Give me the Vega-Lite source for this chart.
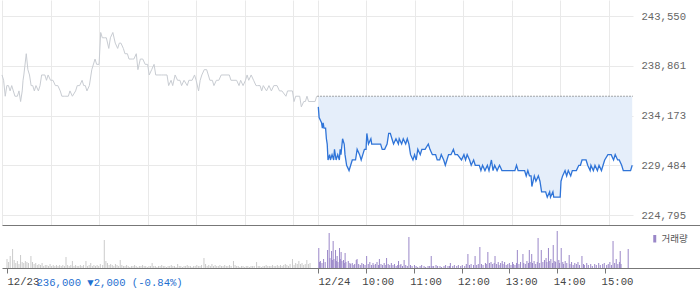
{
"$schema":"https://vega.github.io/schema/vega-lite/v6.json",
"padding":0,"spacing":0,"bounds":"flush","background":"white",
"config":{"view":{"stroke":null},"font":"Liberation Mono"},
"resolve":{"scale":{"x":"independent","y":"independent","color":"independent"}},
"datasets":{
"prev":[{"m":0,"p":238000},{"m":2,"p":237500},{"m":4,"p":236000},{"m":6,"p":237000},{"m":8,"p":237000},{"m":10,"p":236500},{"m":12,"p":237000},{"m":14,"p":236500},{"m":16,"p":236000},{"m":19,"p":236000},{"m":21,"p":236500},{"m":23,"p":235500},{"m":25,"p":236500},{"m":26,"p":237500},{"m":27,"p":238000},{"m":30,"p":240000},{"m":32,"p":238500},{"m":34,"p":238000},{"m":36,"p":237000},{"m":38,"p":237000},{"m":40,"p":236500},{"m":42,"p":237000},{"m":45,"p":236500},{"m":47,"p":237000},{"m":49,"p":238000},{"m":53,"p":238000},{"m":55,"p":237500},{"m":57,"p":238000},{"m":60,"p":237500},{"m":63,"p":237500},{"m":66,"p":237000},{"m":69,"p":237000},{"m":72,"p":236500},{"m":74,"p":236000},{"m":77,"p":236000},{"m":79,"p":236000},{"m":82,"p":236000},{"m":84,"p":236500},{"m":87,"p":236000},{"m":91,"p":236500},{"m":93,"p":237000},{"m":96,"p":237000},{"m":99,"p":237500},{"m":101,"p":237000},{"m":103,"p":237000},{"m":105,"p":236500},{"m":108,"p":237000},{"m":111,"p":238500},{"m":115,"p":239500},{"m":117,"p":239000},{"m":120,"p":239000},{"m":122,"p":242000},{"m":124,"p":241500},{"m":127,"p":241500},{"m":129,"p":241500},{"m":132,"p":240500},{"m":134,"p":241500},{"m":137,"p":242000},{"m":140,"p":241000},{"m":143,"p":240500},{"m":145,"p":241000},{"m":147,"p":241000},{"m":150,"p":240500},{"m":152,"p":240000},{"m":155,"p":240000},{"m":157,"p":239500},{"m":161,"p":239500},{"m":163,"p":239500},{"m":166,"p":240000},{"m":168,"p":238500},{"m":171,"p":239500},{"m":174,"p":239500},{"m":177,"p":239000},{"m":180,"p":239000},{"m":182,"p":238000},{"m":185,"p":238500},{"m":188,"p":239000},{"m":190,"p":238000},{"m":194,"p":238000},{"m":197,"p":238000},{"m":200,"p":238000},{"m":204,"p":238000},{"m":206,"p":237000},{"m":209,"p":237500},{"m":211,"p":237000},{"m":214,"p":238000},{"m":217,"p":237500},{"m":220,"p":237500},{"m":222,"p":237000},{"m":225,"p":237500},{"m":229,"p":237000},{"m":231,"p":237500},{"m":235,"p":237500},{"m":238,"p":238000},{"m":240,"p":237500},{"m":243,"p":236500},{"m":245,"p":237500},{"m":247,"p":238000},{"m":250,"p":238500},{"m":253,"p":238500},{"m":255,"p":238000},{"m":257,"p":237500},{"m":260,"p":237500},{"m":262,"p":237000},{"m":265,"p":237500},{"m":268,"p":237500},{"m":271,"p":238000},{"m":281,"p":238000},{"m":283,"p":237500},{"m":290,"p":237500},{"m":293,"p":237000},{"m":295,"p":237500},{"m":298,"p":237000},{"m":301,"p":237500},{"m":303,"p":238000},{"m":305,"p":237500},{"m":308,"p":238000},{"m":311,"p":237500},{"m":314,"p":237000},{"m":316,"p":237000},{"m":319,"p":237000},{"m":321,"p":236500},{"m":323,"p":237000},{"m":327,"p":236500},{"m":330,"p":237000},{"m":333,"p":236500},{"m":336,"p":237000},{"m":340,"p":237000},{"m":343,"p":236500},{"m":346,"p":236500},{"m":351,"p":236000},{"m":353,"p":236500},{"m":356,"p":236500},{"m":359,"p":236500},{"m":361,"p":235500},{"m":363,"p":236000},{"m":368,"p":236000},{"m":370,"p":235000},{"m":373,"p":235500},{"m":375,"p":235500},{"m":377,"p":236000},{"m":379,"p":235500},{"m":387,"p":235500},{"m":389,"p":236000}],
"cur":[{"m":391,"p":235000},{"m":392,"p":234000},{"m":395,"p":233500},{"m":396,"p":233000},{"m":397,"p":233500},{"m":398,"p":233000},{"m":400,"p":233000},{"m":401,"p":232000},{"m":402,"p":231500},{"m":403,"p":230000},{"m":405,"p":230500},{"m":406,"p":230000},{"m":408,"p":230500},{"m":410,"p":230000},{"m":411,"p":231000},{"m":413,"p":230000},{"m":415,"p":230500},{"m":417,"p":230000},{"m":418,"p":231000},{"m":419,"p":230500},{"m":421,"p":232000},{"m":423,"p":231500},{"m":424,"p":230500},{"m":426,"p":229500},{"m":429,"p":229000},{"m":431,"p":229500},{"m":433,"p":230000},{"m":437,"p":230000},{"m":439,"p":231000},{"m":442,"p":230500},{"m":444,"p":230000},{"m":446,"p":230500},{"m":448,"p":231000},{"m":450,"p":231000},{"m":451,"p":232500},{"m":453,"p":231500},{"m":456,"p":232000},{"m":457,"p":231500},{"m":461,"p":231500},{"m":465,"p":231500},{"m":468,"p":231500},{"m":470,"p":231000},{"m":473,"p":231000},{"m":476,"p":231500},{"m":478,"p":232500},{"m":480,"p":232500},{"m":482,"p":232000},{"m":484,"p":231500},{"m":487,"p":232000},{"m":490,"p":231500},{"m":491,"p":232000},{"m":494,"p":231500},{"m":496,"p":232000},{"m":499,"p":231500},{"m":501,"p":232000},{"m":503,"p":231500},{"m":505,"p":230500},{"m":508,"p":230000},{"m":510,"p":230500},{"m":512,"p":230000},{"m":514,"p":231000},{"m":517,"p":230500},{"m":519,"p":231000},{"m":523,"p":231000},{"m":527,"p":231500},{"m":529,"p":231000},{"m":532,"p":230500},{"m":536,"p":230500},{"m":538,"p":230000},{"m":541,"p":230000},{"m":543,"p":230500},{"m":546,"p":230000},{"m":548,"p":229500},{"m":550,"p":230000},{"m":552,"p":230500},{"m":555,"p":230500},{"m":558,"p":231000},{"m":560,"p":230500},{"m":563,"p":230500},{"m":568,"p":230000},{"m":571,"p":230500},{"m":573,"p":230000},{"m":575,"p":230500},{"m":578,"p":230000},{"m":580,"p":229500},{"m":583,"p":230000},{"m":585,"p":229500},{"m":587,"p":229500},{"m":590,"p":229500},{"m":592,"p":229000},{"m":594,"p":229500},{"m":597,"p":229000},{"m":600,"p":229500},{"m":602,"p":229000},{"m":605,"p":230000},{"m":607,"p":229000},{"m":609,"p":229500},{"m":612,"p":229000},{"m":615,"p":229500},{"m":618,"p":229000},{"m":634,"p":229000},{"m":636,"p":229500},{"m":638,"p":229000},{"m":646,"p":229000},{"m":648,"p":228500},{"m":650,"p":229000},{"m":652,"p":228500},{"m":654,"p":228500},{"m":655,"p":227500},{"m":658,"p":228500},{"m":660,"p":228000},{"m":663,"p":228500},{"m":665,"p":228000},{"m":667,"p":227000},{"m":672,"p":227000},{"m":674,"p":226500},{"m":677,"p":227000},{"m":678,"p":226500},{"m":681,"p":227000},{"m":682,"p":226500},{"m":690,"p":226500},{"m":691,"p":228000},{"m":693,"p":228500},{"m":696,"p":229000},{"m":698,"p":228500},{"m":700,"p":229000},{"m":703,"p":228500},{"m":705,"p":229000},{"m":710,"p":229000},{"m":713,"p":229500},{"m":715,"p":229500},{"m":717,"p":230000},{"m":722,"p":230000},{"m":724,"p":229500},{"m":727,"p":229000},{"m":728,"p":229500},{"m":731,"p":229000},{"m":733,"p":229500},{"m":736,"p":229000},{"m":738,"p":229500},{"m":741,"p":229000},{"m":743,"p":229500},{"m":745,"p":230000},{"m":749,"p":230500},{"m":752,"p":230500},{"m":753,"p":230500},{"m":756,"p":230000},{"m":758,"p":230500},{"m":761,"p":230000},{"m":763,"p":230000},{"m":766,"p":229500},{"m":768,"p":229000},{"m":777,"p":229000},{"m":779,"p":229500}],
"vol":[{"m":0,"v":9000,"d":"12/23"},{"m":2,"v":6000,"d":"12/23"},{"m":4,"v":12000,"d":"12/23"},{"m":7,"v":19000,"d":"12/23"},{"m":9,"v":8000,"d":"12/23"},{"m":11,"v":5000,"d":"12/23"},{"m":13,"v":7000,"d":"12/23"},{"m":15,"v":4000,"d":"12/23"},{"m":17,"v":13000,"d":"12/23"},{"m":19,"v":6000,"d":"12/23"},{"m":21,"v":5000,"d":"12/23"},{"m":23,"v":7000,"d":"12/23"},{"m":25,"v":6000,"d":"12/23"},{"m":27,"v":5000,"d":"12/23"},{"m":30,"v":12000,"d":"12/23"},{"m":32,"v":6000,"d":"12/23"},{"m":34,"v":4000,"d":"12/23"},{"m":36,"v":5000,"d":"12/23"},{"m":38,"v":3000,"d":"12/23"},{"m":40,"v":4000,"d":"12/23"},{"m":42,"v":3000,"d":"12/23"},{"m":44,"v":5000,"d":"12/23"},{"m":46,"v":2000,"d":"12/23"},{"m":48,"v":3000,"d":"12/23"},{"m":50,"v":3000,"d":"12/23"},{"m":52,"v":2000,"d":"12/23"},{"m":54,"v":4000,"d":"12/23"},{"m":56,"v":2000,"d":"12/23"},{"m":58,"v":3000,"d":"12/23"},{"m":60,"v":2000,"d":"12/23"},{"m":62,"v":3000,"d":"12/23"},{"m":64,"v":2000,"d":"12/23"},{"m":66,"v":3000,"d":"12/23"},{"m":68,"v":2000,"d":"12/23"},{"m":70,"v":3000,"d":"12/23"},{"m":72,"v":2000,"d":"12/23"},{"m":74,"v":11000,"d":"12/23"},{"m":76,"v":3000,"d":"12/23"},{"m":78,"v":2000,"d":"12/23"},{"m":80,"v":3000,"d":"12/23"},{"m":82,"v":7000,"d":"12/23"},{"m":84,"v":2000,"d":"12/23"},{"m":86,"v":3000,"d":"12/23"},{"m":88,"v":2000,"d":"12/23"},{"m":90,"v":2000,"d":"12/23"},{"m":92,"v":3000,"d":"12/23"},{"m":94,"v":2000,"d":"12/23"},{"m":96,"v":3000,"d":"12/23"},{"m":99,"v":7000,"d":"12/23"},{"m":101,"v":2000,"d":"12/23"},{"m":103,"v":3000,"d":"12/23"},{"m":105,"v":5000,"d":"12/23"},{"m":107,"v":2000,"d":"12/23"},{"m":109,"v":3000,"d":"12/23"},{"m":111,"v":2000,"d":"12/23"},{"m":113,"v":3000,"d":"12/23"},{"m":115,"v":2000,"d":"12/23"},{"m":117,"v":4000,"d":"12/23"},{"m":120,"v":3000,"d":"12/23"},{"m":122,"v":28000,"d":"12/23"},{"m":124,"v":7000,"d":"12/23"},{"m":126,"v":5000,"d":"12/23"},{"m":128,"v":3000,"d":"12/23"},{"m":130,"v":4000,"d":"12/23"},{"m":132,"v":3000,"d":"12/23"},{"m":134,"v":2000,"d":"12/23"},{"m":136,"v":4000,"d":"12/23"},{"m":138,"v":3000,"d":"12/23"},{"m":140,"v":2000,"d":"12/23"},{"m":142,"v":8000,"d":"12/23"},{"m":144,"v":3000,"d":"12/23"},{"m":146,"v":2000,"d":"12/23"},{"m":148,"v":2000,"d":"12/23"},{"m":150,"v":3000,"d":"12/23"},{"m":152,"v":2000,"d":"12/23"},{"m":154,"v":1000,"d":"12/23"},{"m":156,"v":2000,"d":"12/23"},{"m":158,"v":2000,"d":"12/23"},{"m":160,"v":3000,"d":"12/23"},{"m":162,"v":2000,"d":"12/23"},{"m":164,"v":1000,"d":"12/23"},{"m":166,"v":2000,"d":"12/23"},{"m":168,"v":2000,"d":"12/23"},{"m":170,"v":3000,"d":"12/23"},{"m":172,"v":2000,"d":"12/23"},{"m":174,"v":2000,"d":"12/23"},{"m":176,"v":1000,"d":"12/23"},{"m":178,"v":2000,"d":"12/23"},{"m":180,"v":2000,"d":"12/23"},{"m":182,"v":5000,"d":"12/23"},{"m":184,"v":2000,"d":"12/23"},{"m":186,"v":2000,"d":"12/23"},{"m":188,"v":1000,"d":"12/23"},{"m":190,"v":2000,"d":"12/23"},{"m":192,"v":2000,"d":"12/23"},{"m":194,"v":3000,"d":"12/23"},{"m":196,"v":2000,"d":"12/23"},{"m":198,"v":2000,"d":"12/23"},{"m":200,"v":1000,"d":"12/23"},{"m":202,"v":2000,"d":"12/23"},{"m":204,"v":2000,"d":"12/23"},{"m":206,"v":3000,"d":"12/23"},{"m":208,"v":2000,"d":"12/23"},{"m":210,"v":2000,"d":"12/23"},{"m":212,"v":1000,"d":"12/23"},{"m":214,"v":4000,"d":"12/23"},{"m":216,"v":2000,"d":"12/23"},{"m":218,"v":2000,"d":"12/23"},{"m":220,"v":1000,"d":"12/23"},{"m":222,"v":2000,"d":"12/23"},{"m":224,"v":2000,"d":"12/23"},{"m":226,"v":3000,"d":"12/23"},{"m":228,"v":2000,"d":"12/23"},{"m":230,"v":2000,"d":"12/23"},{"m":232,"v":1000,"d":"12/23"},{"m":234,"v":2000,"d":"12/23"},{"m":236,"v":2000,"d":"12/23"},{"m":238,"v":3000,"d":"12/23"},{"m":240,"v":2000,"d":"12/23"},{"m":242,"v":2000,"d":"12/23"},{"m":244,"v":3000,"d":"12/23"},{"m":247,"v":10000,"d":"12/23"},{"m":249,"v":4000,"d":"12/23"},{"m":251,"v":2000,"d":"12/23"},{"m":253,"v":3000,"d":"12/23"},{"m":255,"v":2000,"d":"12/23"},{"m":257,"v":4000,"d":"12/23"},{"m":259,"v":2000,"d":"12/23"},{"m":261,"v":3000,"d":"12/23"},{"m":263,"v":2000,"d":"12/23"},{"m":265,"v":2000,"d":"12/23"},{"m":267,"v":3000,"d":"12/23"},{"m":269,"v":2000,"d":"12/23"},{"m":271,"v":2000,"d":"12/23"},{"m":273,"v":3000,"d":"12/23"},{"m":275,"v":2000,"d":"12/23"},{"m":277,"v":2000,"d":"12/23"},{"m":279,"v":3000,"d":"12/23"},{"m":281,"v":2000,"d":"12/23"},{"m":284,"v":7000,"d":"12/23"},{"m":286,"v":3000,"d":"12/23"},{"m":288,"v":2000,"d":"12/23"},{"m":290,"v":2000,"d":"12/23"},{"m":292,"v":1000,"d":"12/23"},{"m":294,"v":2000,"d":"12/23"},{"m":296,"v":2000,"d":"12/23"},{"m":298,"v":1000,"d":"12/23"},{"m":300,"v":2000,"d":"12/23"},{"m":302,"v":2000,"d":"12/23"},{"m":304,"v":1000,"d":"12/23"},{"m":306,"v":2000,"d":"12/23"},{"m":308,"v":2000,"d":"12/23"},{"m":310,"v":2000,"d":"12/23"},{"m":313,"v":6000,"d":"12/23"},{"m":315,"v":2000,"d":"12/23"},{"m":317,"v":2000,"d":"12/23"},{"m":319,"v":1000,"d":"12/23"},{"m":321,"v":2000,"d":"12/23"},{"m":323,"v":2000,"d":"12/23"},{"m":325,"v":3000,"d":"12/23"},{"m":327,"v":2000,"d":"12/23"},{"m":329,"v":2000,"d":"12/23"},{"m":331,"v":2000,"d":"12/23"},{"m":333,"v":3000,"d":"12/23"},{"m":335,"v":2000,"d":"12/23"},{"m":337,"v":2000,"d":"12/23"},{"m":339,"v":3000,"d":"12/23"},{"m":341,"v":2000,"d":"12/23"},{"m":343,"v":3000,"d":"12/23"},{"m":345,"v":2000,"d":"12/23"},{"m":347,"v":3000,"d":"12/23"},{"m":349,"v":4000,"d":"12/23"},{"m":351,"v":3000,"d":"12/23"},{"m":353,"v":2000,"d":"12/23"},{"m":355,"v":4000,"d":"12/23"},{"m":358,"v":9000,"d":"12/23"},{"m":360,"v":3000,"d":"12/23"},{"m":362,"v":5000,"d":"12/23"},{"m":364,"v":4000,"d":"12/23"},{"m":366,"v":7000,"d":"12/23"},{"m":368,"v":4000,"d":"12/23"},{"m":370,"v":5000,"d":"12/23"},{"m":372,"v":3000,"d":"12/23"},{"m":374,"v":4000,"d":"12/23"},{"m":376,"v":8000,"d":"12/23"},{"m":378,"v":4000,"d":"12/23"},{"m":380,"v":5000,"d":"12/23"},
{"m":391,"v":20000,"d":"12/24"},{"m":392,"v":6000,"d":"12/24"},{"m":393,"v":7000,"d":"12/24"},{"m":395,"v":5000,"d":"12/24"},{"m":397,"v":9000,"d":"12/24"},{"m":399,"v":6000,"d":"12/24"},{"m":402,"v":18000,"d":"12/24"},{"m":404,"v":35000,"d":"12/24"},{"m":405,"v":10000,"d":"12/24"},{"m":407,"v":17000,"d":"12/24"},{"m":408,"v":8000,"d":"12/24"},{"m":409,"v":27000,"d":"12/24"},{"m":410,"v":9000,"d":"12/24"},{"m":412,"v":18000,"d":"12/24"},{"m":413,"v":7000,"d":"12/24"},{"m":414,"v":12000,"d":"12/24"},{"m":415,"v":6000,"d":"12/24"},{"m":417,"v":20000,"d":"12/24"},{"m":418,"v":9000,"d":"12/24"},{"m":419,"v":16000,"d":"12/24"},{"m":420,"v":7000,"d":"12/24"},{"m":422,"v":8000,"d":"12/24"},{"m":423,"v":5000,"d":"12/24"},{"m":424,"v":15000,"d":"12/24"},{"m":425,"v":6000,"d":"12/24"},{"m":428,"v":7000,"d":"12/24"},{"m":430,"v":5000,"d":"12/24"},{"m":431,"v":4000,"d":"12/24"},{"m":433,"v":5000,"d":"12/24"},{"m":435,"v":3000,"d":"12/24"},{"m":436,"v":4000,"d":"12/24"},{"m":438,"v":8000,"d":"12/24"},{"m":439,"v":9000,"d":"12/24"},{"m":441,"v":4000,"d":"12/24"},{"m":443,"v":3000,"d":"12/24"},{"m":445,"v":5000,"d":"12/24"},{"m":447,"v":4000,"d":"12/24"},{"m":449,"v":3000,"d":"12/24"},{"m":451,"v":12000,"d":"12/24"},{"m":453,"v":4000,"d":"12/24"},{"m":455,"v":6000,"d":"12/24"},{"m":457,"v":3000,"d":"12/24"},{"m":459,"v":5000,"d":"12/24"},{"m":460,"v":3000,"d":"12/24"},{"m":462,"v":4000,"d":"12/24"},{"m":464,"v":6000,"d":"12/24"},{"m":466,"v":3000,"d":"12/24"},{"m":467,"v":9000,"d":"12/24"},{"m":469,"v":4000,"d":"12/24"},{"m":471,"v":3000,"d":"12/24"},{"m":473,"v":5000,"d":"12/24"},{"m":475,"v":3000,"d":"12/24"},{"m":476,"v":10000,"d":"12/24"},{"m":478,"v":4000,"d":"12/24"},{"m":480,"v":3000,"d":"12/24"},{"m":482,"v":5000,"d":"12/24"},{"m":484,"v":3000,"d":"12/24"},{"m":486,"v":4000,"d":"12/24"},{"m":488,"v":2000,"d":"12/24"},{"m":490,"v":3000,"d":"12/24"},{"m":491,"v":7000,"d":"12/24"},{"m":493,"v":3000,"d":"12/24"},{"m":494,"v":4000,"d":"12/24"},{"m":496,"v":2000,"d":"12/24"},{"m":498,"v":8000,"d":"12/24"},{"m":500,"v":3000,"d":"12/24"},{"m":502,"v":2000,"d":"12/24"},{"m":504,"v":31000,"d":"12/24"},{"m":506,"v":3000,"d":"12/24"},{"m":508,"v":2000,"d":"12/24"},{"m":511,"v":3000,"d":"12/24"},{"m":513,"v":2000,"d":"12/24"},{"m":515,"v":1000,"d":"12/24"},{"m":518,"v":2000,"d":"12/24"},{"m":520,"v":3000,"d":"12/24"},{"m":523,"v":2000,"d":"12/24"},{"m":525,"v":1000,"d":"12/24"},{"m":528,"v":2000,"d":"12/24"},{"m":530,"v":2000,"d":"12/24"},{"m":532,"v":12000,"d":"12/24"},{"m":533,"v":2000,"d":"12/24"},{"m":535,"v":2000,"d":"12/24"},{"m":538,"v":3000,"d":"12/24"},{"m":540,"v":2000,"d":"12/24"},{"m":543,"v":2000,"d":"12/24"},{"m":545,"v":1000,"d":"12/24"},{"m":548,"v":2000,"d":"12/24"},{"m":550,"v":3000,"d":"12/24"},{"m":553,"v":2000,"d":"12/24"},{"m":555,"v":2000,"d":"12/24"},{"m":556,"v":5000,"d":"12/24"},{"m":559,"v":2000,"d":"12/24"},{"m":561,"v":3000,"d":"12/24"},{"m":564,"v":2000,"d":"12/24"},{"m":566,"v":3000,"d":"12/24"},{"m":569,"v":2000,"d":"12/24"},{"m":571,"v":3000,"d":"12/24"},{"m":574,"v":2000,"d":"12/24"},{"m":576,"v":4000,"d":"12/24"},{"m":578,"v":14000,"d":"12/24"},{"m":580,"v":3000,"d":"12/24"},{"m":582,"v":4000,"d":"12/24"},{"m":585,"v":3000,"d":"12/24"},{"m":587,"v":12000,"d":"12/24"},{"m":589,"v":3000,"d":"12/24"},{"m":591,"v":4000,"d":"12/24"},{"m":593,"v":21000,"d":"12/24"},{"m":595,"v":4000,"d":"12/24"},{"m":597,"v":3000,"d":"12/24"},{"m":600,"v":5000,"d":"12/24"},{"m":601,"v":4000,"d":"12/24"},{"m":603,"v":16000,"d":"12/24"},{"m":605,"v":5000,"d":"12/24"},{"m":607,"v":6000,"d":"12/24"},{"m":609,"v":4000,"d":"12/24"},{"m":611,"v":5000,"d":"12/24"},{"m":612,"v":12000,"d":"12/24"},{"m":614,"v":4000,"d":"12/24"},{"m":616,"v":6000,"d":"12/24"},{"m":617,"v":3000,"d":"12/24"},{"m":619,"v":5000,"d":"12/24"},{"m":621,"v":7000,"d":"12/24"},{"m":622,"v":4000,"d":"12/24"},{"m":624,"v":6000,"d":"12/24"},{"m":626,"v":3000,"d":"12/24"},{"m":628,"v":4000,"d":"12/24"},{"m":630,"v":5000,"d":"12/24"},{"m":632,"v":3000,"d":"12/24"},{"m":634,"v":6000,"d":"12/24"},{"m":635,"v":4000,"d":"12/24"},{"m":637,"v":3000,"d":"12/24"},{"m":639,"v":5000,"d":"12/24"},{"m":640,"v":18000,"d":"12/24"},{"m":642,"v":4000,"d":"12/24"},{"m":644,"v":6000,"d":"12/24"},{"m":647,"v":14000,"d":"12/24"},{"m":648,"v":5000,"d":"12/24"},{"m":650,"v":4000,"d":"12/24"},{"m":652,"v":7000,"d":"12/24"},{"m":654,"v":5000,"d":"12/24"},{"m":655,"v":18000,"d":"12/24"},{"m":656,"v":6000,"d":"12/24"},{"m":658,"v":14000,"d":"12/24"},{"m":659,"v":5000,"d":"12/24"},{"m":661,"v":7000,"d":"12/24"},{"m":663,"v":4000,"d":"12/24"},{"m":665,"v":6000,"d":"12/24"},{"m":666,"v":30000,"d":"12/24"},{"m":668,"v":5000,"d":"12/24"},{"m":670,"v":18000,"d":"12/24"},{"m":672,"v":6000,"d":"12/24"},{"m":674,"v":8000,"d":"12/24"},{"m":676,"v":10000,"d":"12/24"},{"m":677,"v":6000,"d":"12/24"},{"m":679,"v":20000,"d":"12/24"},{"m":680,"v":7000,"d":"12/24"},{"m":682,"v":9000,"d":"12/24"},{"m":684,"v":5000,"d":"12/24"},{"m":685,"v":23000,"d":"12/24"},{"m":687,"v":7000,"d":"12/24"},{"m":688,"v":6000,"d":"12/24"},{"m":690,"v":37000,"d":"12/24"},{"m":692,"v":8000,"d":"12/24"},{"m":693,"v":5000,"d":"12/24"},{"m":695,"v":20000,"d":"12/24"},{"m":697,"v":6000,"d":"12/24"},{"m":698,"v":4000,"d":"12/24"},{"m":700,"v":7000,"d":"12/24"},{"m":702,"v":5000,"d":"12/24"},{"m":705,"v":13000,"d":"12/24"},{"m":706,"v":4000,"d":"12/24"},{"m":708,"v":6000,"d":"12/24"},{"m":710,"v":3000,"d":"12/24"},{"m":712,"v":5000,"d":"12/24"},{"m":714,"v":4000,"d":"12/24"},{"m":716,"v":6000,"d":"12/24"},{"m":718,"v":3000,"d":"12/24"},{"m":721,"v":12000,"d":"12/24"},{"m":723,"v":4000,"d":"12/24"},{"m":724,"v":3000,"d":"12/24"},{"m":727,"v":5000,"d":"12/24"},{"m":729,"v":3000,"d":"12/24"},{"m":732,"v":4000,"d":"12/24"},{"m":734,"v":2000,"d":"12/24"},{"m":737,"v":4000,"d":"12/24"},{"m":739,"v":3000,"d":"12/24"},{"m":742,"v":5000,"d":"12/24"},{"m":744,"v":3000,"d":"12/24"},{"m":747,"v":4000,"d":"12/24"},{"m":749,"v":5000,"d":"12/24"},{"m":752,"v":3000,"d":"12/24"},{"m":754,"v":4000,"d":"12/24"},{"m":756,"v":6000,"d":"12/24"},{"m":758,"v":3000,"d":"12/24"},{"m":760,"v":27000,"d":"12/24"},{"m":762,"v":5000,"d":"12/24"},{"m":764,"v":9000,"d":"12/24"},{"m":766,"v":4000,"d":"12/24"},{"m":768,"v":6000,"d":"12/24"},{"m":769,"v":17000,"d":"12/24"},{"m":770,"v":4000,"d":"12/24"},{"m":779,"v":19000,"d":"12/24"}]
},
"vconcat":[
{"width":631,"height":225,
"layer":[
{"data":{"name":"cur"},"mark":{"type":"area","color":"#e5eefa","opacity":1},
"encoding":{"x":{"field":"m","type":"quantitative","scale":{"domain":[0,780],"nice":false,"zero":false},
"axis":{"values":[0,60,120,180,240,300,360,390,450,510,570,630,690,750],"grid":true,"gridColor":"#e9e9e9","labels":false,"ticks":false,"domain":false,"title":null}},
"y":{"field":"p","type":"quantitative","scale":{"domain":[223880,245056],"nice":false,"zero":false},
"axis":{"orient":"right","values":[224795,229484,234173,238861,243550],"labelExpr":"format(datum.value, ',')","grid":true,"gridColor":"#e9e9e9","ticks":false,"domain":false,"labelPadding":8,"labelColor":"#666","labelFont":"Liberation Mono","labelFontSize":10.6,"title":null}},
"y2":{"datum":236000}}},
{"data":{"name":"prev"},"mark":{"type":"line","color":"#c8ccd2","strokeWidth":1},
"encoding":{"x":{"field":"m","type":"quantitative"},"y":{"field":"p","type":"quantitative"}}},
{"data":{"name":"cur"},"mark":{"type":"line","color":"#2f74d8","strokeWidth":1.3},
"encoding":{"x":{"field":"m","type":"quantitative"},"y":{"field":"p","type":"quantitative"}}},
{"data":{"values":[{"close":236000}]},"mark":{"type":"rule","color":"#555555","strokeDash":[1,2],"strokeWidth":1},
"encoding":{"x":{"datum":390},"x2":{"datum":780},"y":{"field":"close","type":"quantitative"}}}
]},
{"width":700,"height":43,
"data":{"name":"vol"},
"resolve":{"axis":{"x":"independent"}},
"layer":[
{"mark":{"type":"bar","width":1},
"encoding":{"x":{"field":"m","type":"quantitative","scale":{"domain":[0,865.29],"nice":false,"zero":false},
"axis":{"values":[0,390,450,510,570,630,690,750],"labelExpr":"datum.value==0?'12/23':datum.value==390?'12/24':(floor((datum.value-390)/60)+9)+':00'","grid":false,"domainColor":"#777","tickColor":"#777","tickSize":5,"labelAlign":"left","labelOffset":{"condition":{"test":"datum.value>400","value":-4},"value":0},"labelPadding":3,"labelColor":"#444","labelFont":"Liberation Mono","labelFontSize":10.6,"labelFlush":false,"labelOverlap":false,
"title":"236,000 ▼2,000 (-0.84%)","titleColor":"#1f6fd0","titleFont":"Liberation Mono","titleFontSize":10.6,"titleFontWeight":"normal","titleAlign":"left","titleAnchor":"start","titleX":34,"titleY":17,"titleBaseline":"alphabetic"}},
"y":{"field":"v","type":"quantitative","stack":null,"scale":{"domain":[0,43000],"nice":false},"axis":null},
"color":{"field":"d","type":"nominal","scale":{"domain":["12/23","12/24"],"range":["#cbcbcb","#9a87c8"]},
"legend":{"orient":"none","legendX":648,"legendY":9,"values":["12/24"],"labelExpr":"'거래량'","title":null,"symbolType":"M-0.4,-1H0.4V1H-0.4Z","symbolSize":56,"symbolStrokeWidth":0,"labelFont":"Noto Sans CJK KR","labelFontSize":9.5,"labelColor":"#555","labelOffset":2,"padding":0}}}},
{"mark":{"type":"rule","opacity":0},
"encoding":{"x":{"field":"m","type":"quantitative","axis":{"orient":"top","domain":true,"domainColor":"#777","labels":false,"ticks":false,"grid":false,"title":null}}}}
]}
]
}
